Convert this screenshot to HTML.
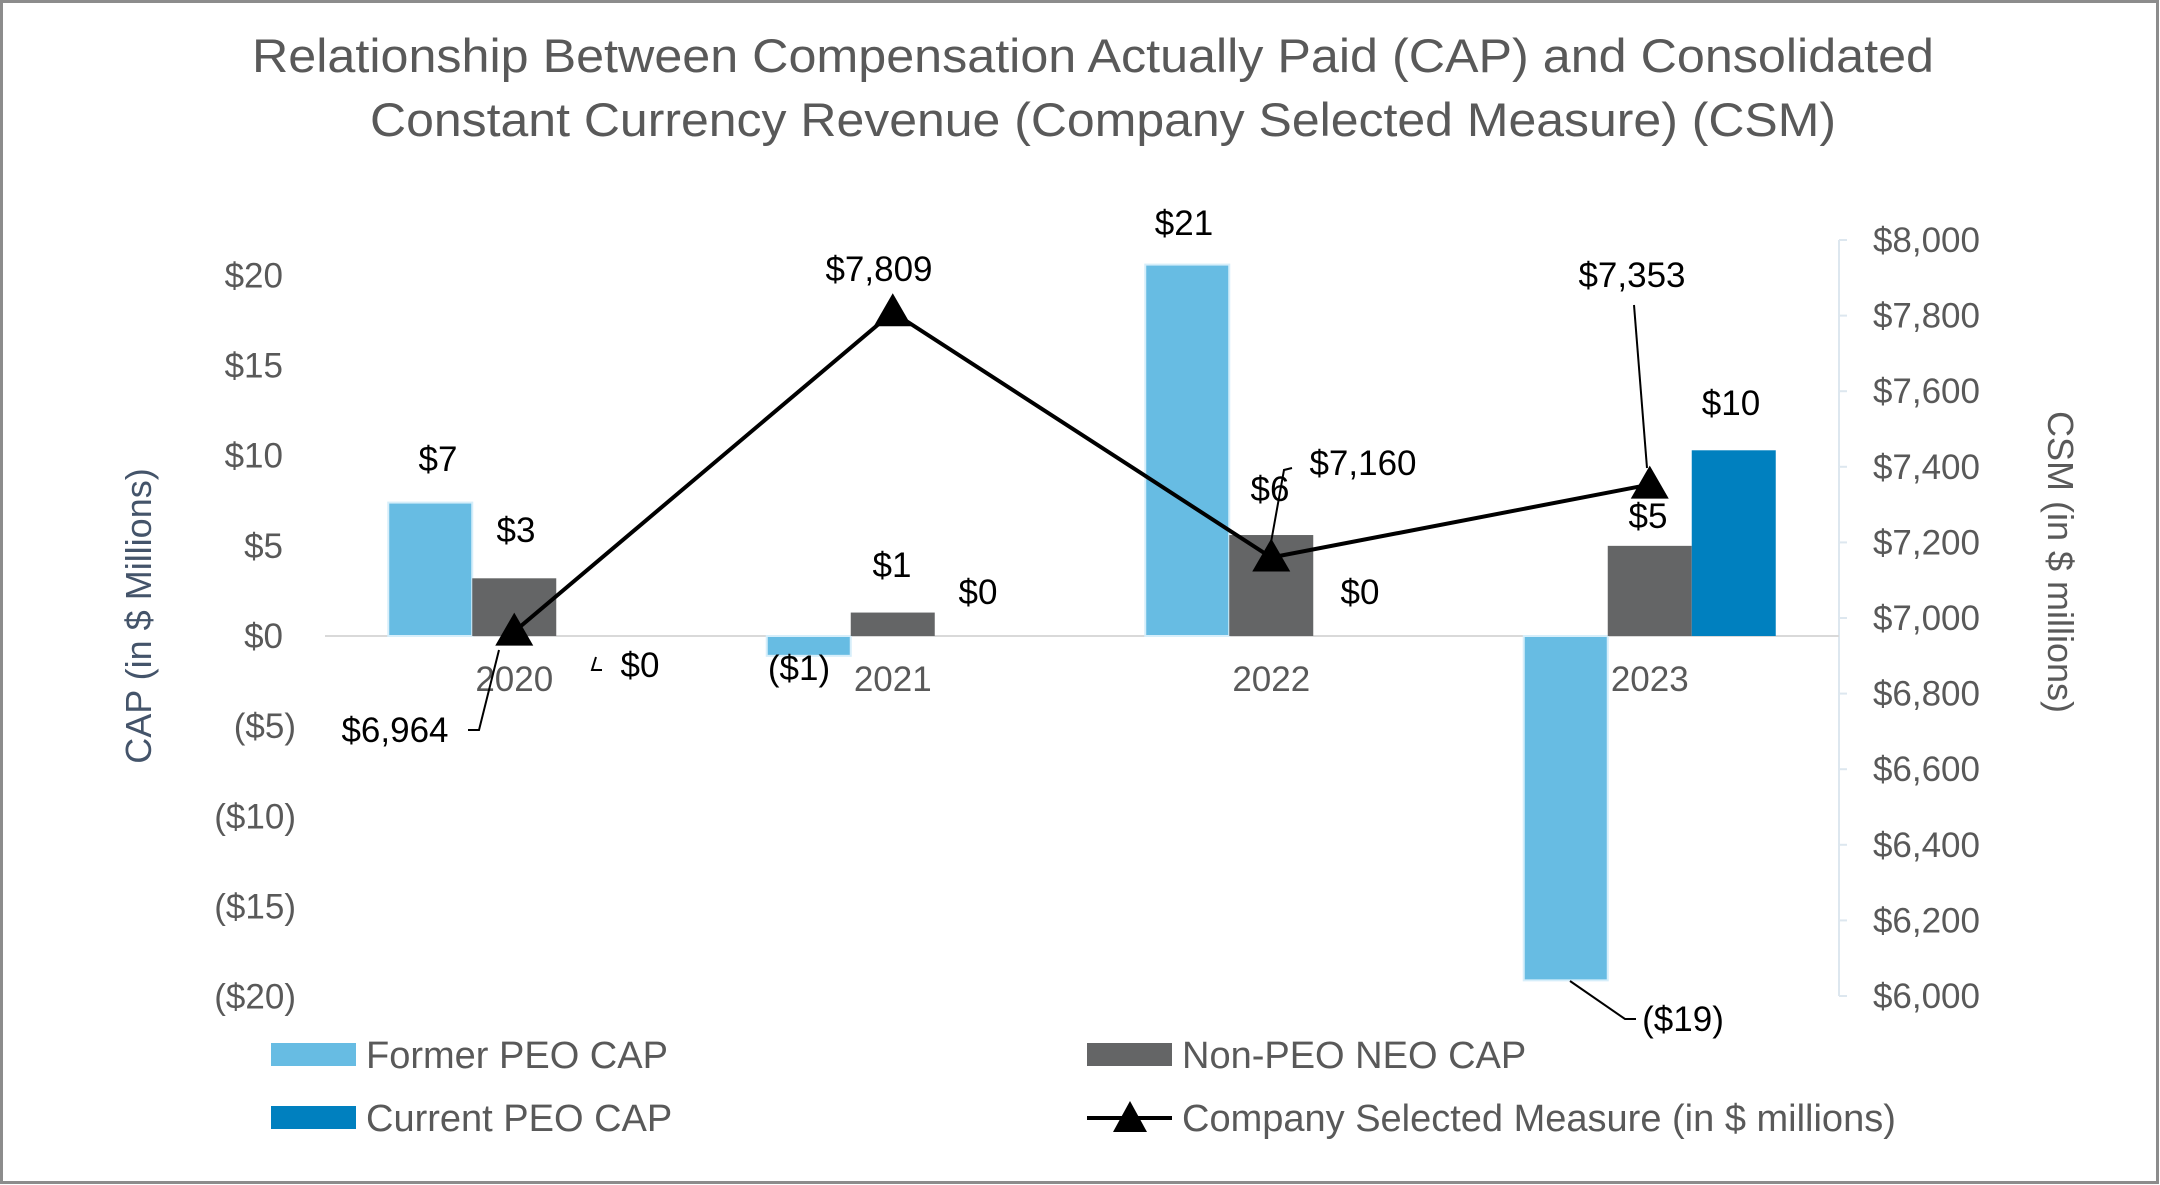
<!DOCTYPE html>
<html><head><meta charset="utf-8"><style>
html,body{margin:0;padding:0;background:#fff}
svg{display:block;font-family:"Liberation Sans",Arial,sans-serif}
</style></head><body>
<svg id="chart" width="2160" height="1185" viewBox="0 0 2160 1185">
<rect x="1.5" y="1.5" width="2156" height="1181" fill="#fff" stroke="#8c8c8c" stroke-width="3"/>
<text x="1093" y="72" text-anchor="middle" font-size="47" fill="#595959" textLength="1682" lengthAdjust="spacingAndGlyphs">Relationship Between Compensation Actually Paid (CAP) and Consolidated</text>
<text x="1103" y="136" text-anchor="middle" font-size="47" fill="#595959" textLength="1466" lengthAdjust="spacingAndGlyphs">Constant Currency Revenue (Company Selected Measure) (CSM)</text>
<text transform="translate(151,616) rotate(-90)" text-anchor="middle" font-size="36" fill="#44546A">CAP (in $ Millions)</text>
<text transform="translate(2048,562) rotate(90)" text-anchor="middle" font-size="36" fill="#595959">CSM (in $ millions)</text>
<g id="g"></g>
</svg>
<script>
const categories=["2020","2021","2022","2023"];
const formerPeo=[7.4,-1.1,20.6,-19.1];
const nonPeo=[3.2,1.3,5.6,5.0];
const currentPeo=[0,0,0,10.3];
const csm=[6964,7809,7160,7353];
const leftTicks=[20,15,10,5,0,-5,-10,-15,-20];
const rightTicks=[8000,7800,7600,7400,7200,7000,6800,6600,6400,6200,6000];
const formerLabels=["$7","($1)","$21","($19)"];
const nonPeoLabels=["$3","$1","$6","$5"];
const currentLabels=["$0","$0","$0","$10"];
const csmLabels=["$6,964","$7,809","$7,160","$7,353"];

const NS="http://www.w3.org/2000/svg";
const g=document.getElementById('g');
function el(t,a,txt){const e=document.createElementNS(NS,t);for(const k in a)e.setAttribute(k,a[k]);if(txt!==undefined)e.textContent=txt;g.appendChild(e);return e;}
const x0=325,x1=1839,bw=(x1-x0)/categories.length,barW=84;
function cx(i){return x0+bw*(i+0.5);}
function yL(v){return 636-v*18.03;}
function yR(v){return 618-(v-7000)*0.378;}

leftTicks.forEach(v=>{
  const t=el('text',{x:v<0?296:283,y:yL(v)+12,'text-anchor':'end','font-size':35,fill:'#595959'},v<0?'($'+(-v)+')':'$'+v);
  
  
});
el('line',{x1:x1,y1:yR(8000),x2:x1,y2:yR(6000),stroke:'#dde7ef','stroke-width':2});
rightTicks.forEach(v=>{
  const tk=el('line',{x1:x1,y1:yR(v),x2:x1+8,y2:yR(v),stroke:'#dde7ef','stroke-width':2});
  
  
  const t=el('text',{x:1980,y:yR(v)+12,'text-anchor':'end','font-size':35,fill:'#595959'},'$'+v.toLocaleString('en-US'));
  
  
});
const zl=el('line',{x1:x0,y1:yL(0),x2:x1,y2:yL(0),stroke:'#d9d9d9','stroke-width':2});



function bar(i,off,v,col,name){
  const x=cx(i)+off*barW-barW/2, y=Math.min(yL(v),yL(0)), h=Math.abs(yL(v)-yL(0));
  const r=el('rect',{x:x,y:y,width:barW,height:h,fill:col,stroke:col==='#67BCE3'?'#d6eefa':'none','stroke-width':2});
  
  
}
categories.forEach((c,i)=>{
  bar(i,-1,formerPeo[i],'#67BCE3','former-peo-bar');
  bar(i,0,nonPeo[i],'#646566','non-peo-bar');
  bar(i,1,currentPeo[i],'#0080BF','current-peo-bar');
  const t=el('text',{x:cx(i),y:yL(0)+55,'text-anchor':'middle','font-size':35,fill:'#595959'},c);
  
  
});
const pts=csm.map((v,i)=>cx(i)+','+yR(v)).join(' ');
const pl=el('polyline',{points:pts,fill:'none',stroke:'#000','stroke-width':4});


csm.forEach((v,i)=>{
  const x=cx(i),y=yR(v);
  const m=el('polygon',{points:`${x},${y-19} ${x+19},${y+14} ${x-19},${y+14}`,fill:'#000'});
  
  
});
const fPos=[[438,459],[799,668],[1184,223],[1683,1019]];
const nPos=[[516,530],[892,565],[1270,489],[1648,516]];
const cPos=[[640,665],[978,592],[1360,592],[1731,403]];
const sPos=[[395,730],[879,269],[1363,463],[1632,275]];
function lab(p,s,n){const t=el('text',{x:p[0],y:p[1]+12,'text-anchor':'middle','font-size':35,fill:'#000'},s);}
categories.forEach((c,i)=>{
  lab(fPos[i],formerLabels[i],'former-peo-value-label');
  lab(nPos[i],nonPeoLabels[i],'non-peo-value-label');
  lab(cPos[i],currentLabels[i],'current-peo-value-label');
  lab(sPos[i],csmLabels[i],'csm-value-label');
});
[["M468 730 L479 730 L499 650","leader-2020-csm"],["M596 657 L592 670 L602 670","leader-2020-current"],
 ["M1292 468 L1284 470 L1270 548","leader-2022-csm"],["M1634 305 L1647 468","leader-2023-csm"],
 ["M1570 981 L1625 1019 L1636 1019","leader-2023-former"]].forEach(d=>{
  const p=el('path',{d:d[0],fill:'none',stroke:'#000','stroke-width':2});
  
  
});
function legSw(x,y,col,txt,n){
  const r=el('rect',{x:x,y:y,width:85,height:23,fill:col});
  
  
  const t=el('text',{x:x+95,y:y+25,'font-size':38,fill:'#595959'},txt);
  
  
}
legSw(271,1043,'#67BCE3','Former PEO CAP','legend-former-peo');
legSw(1087,1043,'#646566','Non-PEO NEO CAP','legend-non-peo');
legSw(271,1106,'#0080BF','Current PEO CAP','legend-current-peo');
const ll=el('line',{x1:1087,y1:1118,x2:1172,y2:1118,stroke:'#000','stroke-width':4});


const lm=el('polygon',{points:'1130,1101 1147,1132 1113,1132',fill:'#000'});


const lt=el('text',{x:1182,y:1131,'font-size':38,fill:'#595959'},'Company Selected Measure (in $ millions)');


</script>
</body></html>
